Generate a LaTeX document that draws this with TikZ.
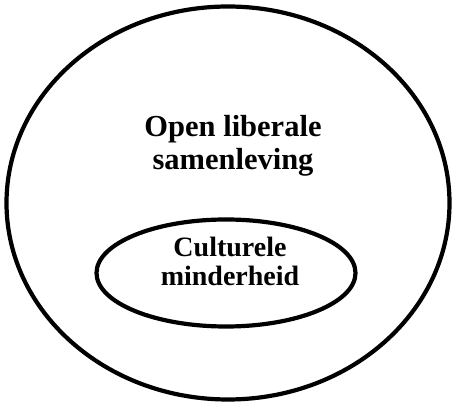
\documentclass[tikz,border=0pt]{standalone}
\usepackage{fontspec}
\setmainfont{Liberation Serif}
\usepackage{tikz}
\usetikzlibrary{shapes.geometric}

\tikzset{
    kring/.style={draw, ellipse, line width=4.2pt, inner sep=0pt},
    label groot/.style={align=center, font=\bfseries\fontsize{30.5}{33}\selectfont},
    label klein/.style={align=center, font=\bfseries\fontsize{28}{29}\selectfont}
}

\begin{document}
\begin{tikzpicture}[x=1pt, y=1pt]
    \useasboundingbox (0,0) rectangle (455,406);

    % Ellipses
    \node[kring, minimum width=443pt, minimum height=393pt] (samenleving) at (228,203) {};
    \node[kring, minimum width=259pt, minimum height=107pt] (minderheid) at (226,133) {};

    % Labels
    \node[label groot] (tekstbuiten) at (233,260) {Open liberale\\samenleving};
    \node[label klein] (tekstbinnen) at (230,145) {Culturele\\minderheid};
\end{tikzpicture}
\end{document}
